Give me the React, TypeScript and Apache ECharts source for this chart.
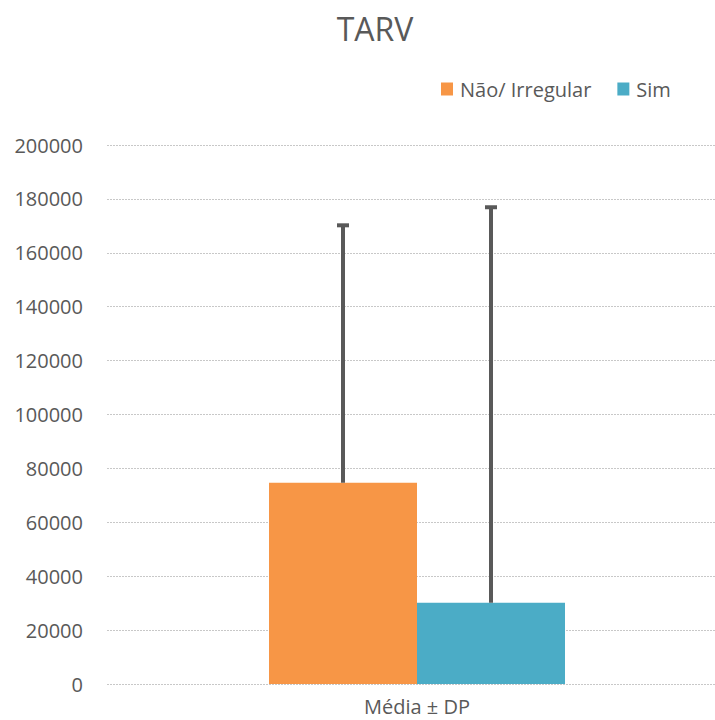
import React, { useEffect, useRef } from "react";
import * as echarts from "echarts";

const categories = ["Média ± DP"];
const seriesNames = ["Não/ Irregular", "Sim"];
const meanNao = [74650];
const sdNao = [95550];
const meanSim = [30150];
const sdSim = [146750];
const colors = ["#F79646", "#4BACC6"];

const BAR_W = 148;
const CHART_W = 760;

function errorSeries(name: string, means: number[], sds: number[], offset: number) {
  return {
    type: "custom",
    name: name + " DP",
    z: 10,
    data: means.map((m, i) => [i, m, m + sds[i]]),
    renderItem: (params: any, api: any) => {
      const low = api.coord([api.value(0), api.value(1)]);
      const high = api.coord([api.value(0), api.value(2)]);
      const x = low[0] + offset;
      const capHalf = 6;
      return {
        type: "group",
        children: [
          {
            type: "line",
            shape: { x1: x, y1: low[1], x2: x, y2: high[1] },
            style: { stroke: "#595959", lineWidth: 4 },
          },
          {
            type: "line",
            shape: { x1: x - capHalf, y1: high[1], x2: x + capHalf, y2: high[1] },
            style: { stroke: "#595959", lineWidth: 4 },
          },
        ],
      };
    },
  };
}

export default function App() {
  const ref = useRef<HTMLDivElement>(null);
  useEffect(() => {
    document.body.style.margin = "0";
    const chart = echarts.init(ref.current!, undefined, { renderer: "svg" });
    const font = "Open Sans, Noto Sans, sans-serif";
    chart.setOption({
      animation: false,
      textStyle: { fontFamily: font },
      title: {
        text: "TARV",
        left: 375,
        textAlign: "center",
        top: 12,
        padding: 0,
        textStyle: { fontSize: 32, lineHeight: 32, fontWeight: "normal", color: "#595959", fontFamily: font },
      },
      legend: {
        data: seriesNames,
        left: 441,
        top: 79,
        padding: 0,
        itemWidth: 12,
        itemHeight: 13,
        itemGap: 26,
        icon: "rect",
        textStyle: { fontSize: 20, lineHeight: 20, color: "#595959", fontFamily: font, padding: [0, 0, 0, 2] },
      },
      grid: { left: 107, right: CHART_W - 727, top: 145, bottom: 36, containLabel: false },
      xAxis: {
        type: "category",
        data: categories,
        axisLine: { show: false },
        axisTick: { show: false },
        axisLabel: { fontSize: 20, lineHeight: 20, color: "#595959", margin: 12 },
      },
      yAxis: {
        type: "value",
        min: 0,
        max: 200000,
        interval: 20000,
        axisLine: { show: false },
        axisTick: { show: false },
        axisLabel: { fontSize: 20, color: "#595959", margin: 24, formatter: (v: number) => String(v) },
        splitLine: { lineStyle: { color: "#C8C8C8", type: [2, 1], width: 1 } },
      },
      series: [
        {
          type: "bar",
          name: seriesNames[0],
          data: meanNao,
          barWidth: BAR_W,
          barGap: "0%",
          itemStyle: { color: colors[0] },
        },
        {
          type: "bar",
          name: seriesNames[1],
          data: meanSim,
          barWidth: BAR_W,
          barGap: "0%",
          itemStyle: { color: colors[1] },
        },
        errorSeries(seriesNames[0], meanNao, sdNao, -BAR_W / 2),
        errorSeries(seriesNames[1], meanSim, sdSim, BAR_W / 2),
      ],
    });
    return () => chart.dispose();
  }, []);
  return (
    <div style={{ width: 715, height: 720, overflow: "hidden" }}>
      <div ref={ref} style={{ width: CHART_W, height: 720 }} />
    </div>
  );
}
